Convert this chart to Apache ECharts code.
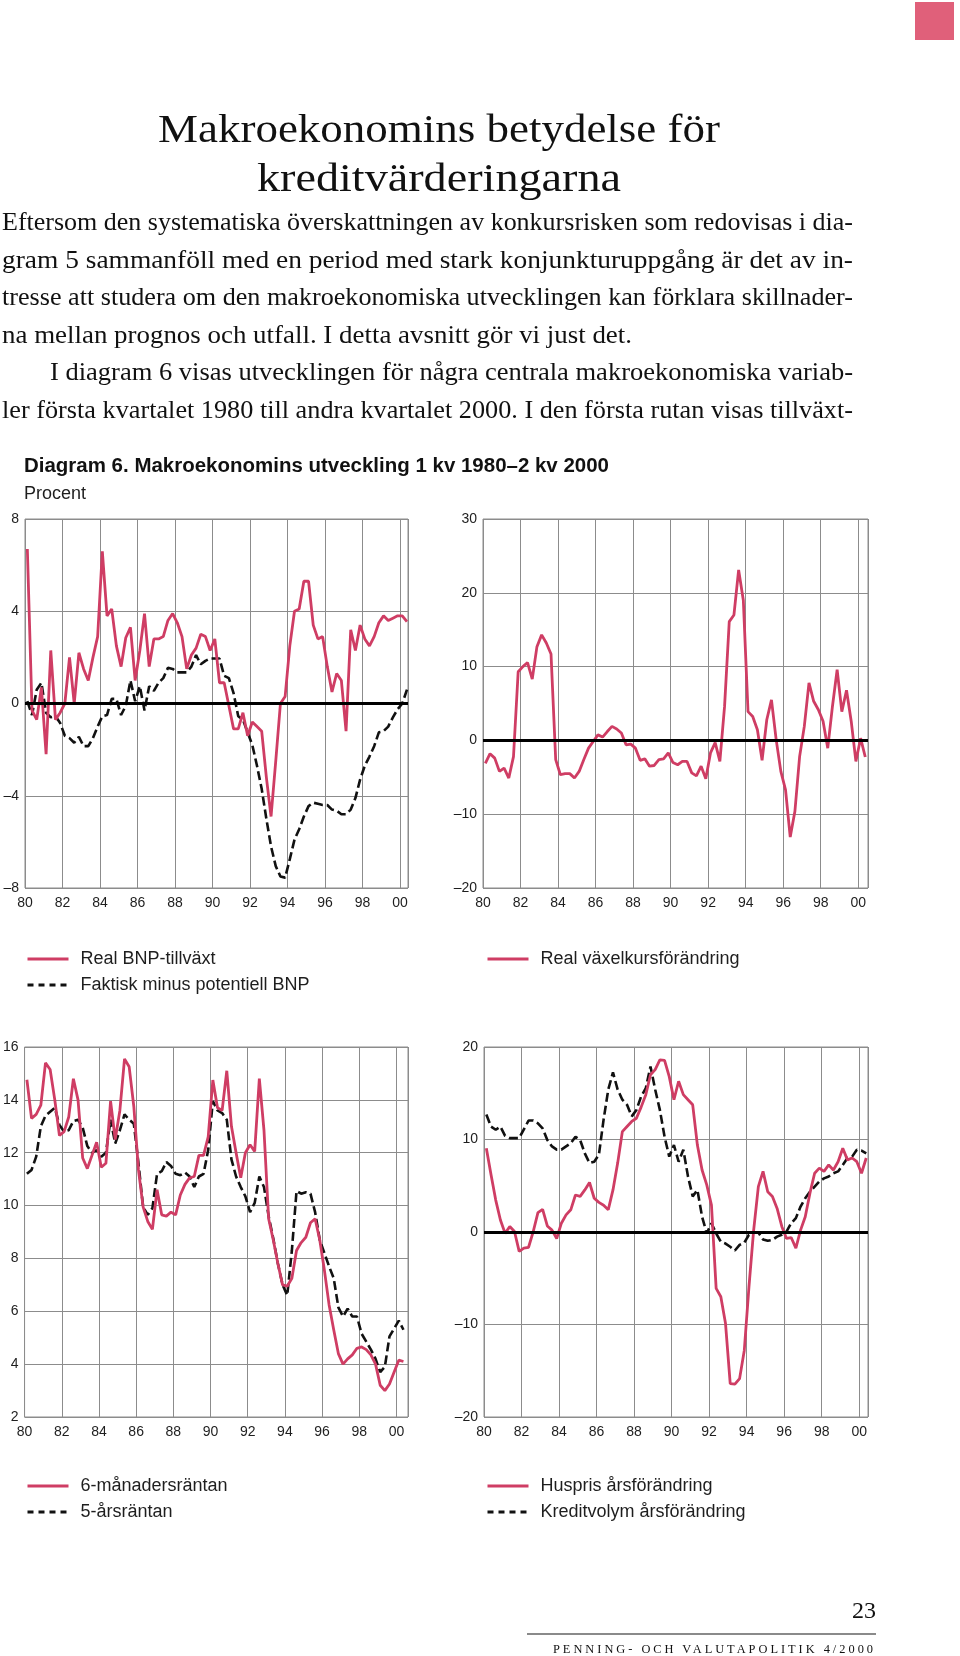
<!DOCTYPE html>
<html lang="sv">
<head>
<meta charset="utf-8">
<script src="https://cdn.jsdelivr.net/npm/echarts@6/dist/echarts.min.js"></script>
<style>
  html, body { margin: 0; padding: 0; background: #fff; }
  #page { position: relative; width: 960px; height: 1656px; overflow: hidden; background: #fff; }
  #chart { position: absolute; left: 0; top: 0; width: 960px; height: 1656px; }
  .ln { position: absolute; white-space: nowrap; line-height: 1; color: #111; font-family: "Liberation Serif", "DejaVu Serif", serif; }
  .ln span { display: inline-block; transform-origin: 0 50%; }
  #tab { position: absolute; left: 915px; top: 2px; width: 39px; height: 38px; background: #e0607a; }
  #rule { position: absolute; left: 527px; top: 1633px; width: 349px; height: 0; border-top: 2px solid #8a8a8a; }
</style>
</head>
<body>
<div id="page">
  <div id="chart"></div>
  <div id="tab"></div>
  <div id="rule"></div>
</div>
<script>
// ---------------- data (quarterly, 1 kv 1980 – 2 kv 2000) ----------------
const startYear = 1980;
const yearTicks = [1980, 1982, 1984, 1986, 1988, 1990, 1992, 1994, 1996, 1998, 2000];

const realBnpTillvaxt = [6.7,-0.3,-0.7,0.7,-2.2,2.3,-0.7,-0.4,0.0,2.0,
  0.0,2.2,1.5,1.0,2.0,2.9,6.6,3.8,4.1,2.5,
  1.6,2.85,3.3,1.0,2.3,3.9,1.6,2.8,2.8,2.9,
  3.6,3.9,3.5,2.9,1.5,2.1,2.4,3.0,2.9,2.3,
  2.8,0.9,0.9,-0.1,-1.1,-1.1,-0.4,-1.4,-0.8,-1.0,
  -1.2,-3.2,-4.9,-2.5,0.0,0.3,2.5,4.0,4.1,5.3,
  5.3,3.4,2.8,2.9,1.6,0.5,1.3,1.0,-1.2,3.2,
  2.3,3.4,2.8,2.5,2.9,3.5,3.8,3.6,3.7,3.8,
  3.8,3.55];

const faktiskMinusPotentiell = [0.1,-0.5,0.6,0.9,-0.4,-0.6,-0.55,-0.85,-1.4,-1.5,
  -1.7,-1.45,-1.85,-1.85,-1.5,-1.0,-0.55,-0.5,0.2,0.2,
  -0.5,-0.1,1.0,0.1,0.75,-0.3,0.75,0.55,0.9,1.1,
  1.55,1.5,1.35,1.35,1.35,1.6,2.1,1.7,1.85,1.95,
  1.95,1.95,1.2,1.1,0.45,-0.55,-0.7,-1.25,-1.8,-2.7,
  -3.7,-5.0,-6.2,-7.05,-7.5,-7.55,-6.75,-5.9,-5.45,-4.9,
  -4.45,-4.3,-4.35,-4.4,-4.4,-4.6,-4.65,-4.8,-4.8,-4.6,
  -4.1,-3.3,-2.7,-2.3,-1.85,-1.25,-1.2,-1.0,-0.6,-0.25,
  0.0,0.6];

const realVaxelkurs = [-3.1,-1.8,-2.4,-4.2,-3.75,-5.1,-2.2,9.3,10.0,10.55,
  8.3,12.7,14.3,13.2,11.7,-2.6,-4.65,-4.5,-4.5,-5.1,
  -4.2,-2.6,-1.05,-0.15,0.75,0.45,1.2,1.9,1.55,1.0,
  -0.6,-0.5,-1.05,-2.7,-2.5,-3.5,-3.4,-2.6,-2.5,-1.7,
  -3.0,-3.3,-2.85,-2.85,-4.4,-4.8,-3.5,-5.2,-1.7,-0.3,
  -2.85,4.6,16.1,17.0,23.1,19.0,3.9,3.25,1.45,-2.7,
  2.8,5.5,0.1,-4.2,-6.7,-13.1,-9.6,-2.2,1.9,7.8,
  5.3,4.15,2.6,-1.05,4.6,9.6,3.9,6.8,2.6,-2.85,
  0.3,-2.25];

const sexManadersRantan = [14.76,13.3,13.45,13.8,15.4,15.15,14.0,12.65,12.8,13.35,
  14.8,14.0,11.8,11.4,11.9,12.4,11.45,11.6,13.95,12.5,
  13.6,15.55,15.25,13.75,11.35,9.95,9.4,9.1,10.6,9.65,
  9.6,9.75,9.65,10.4,10.8,11.05,11.1,11.9,11.9,12.6,
  14.75,13.7,13.6,15.1,13.0,12.0,11.05,12.0,12.3,12.05,
  14.8,12.85,9.5,8.7,7.8,7.0,6.95,7.25,8.3,8.6,
  8.8,9.35,9.5,8.7,7.55,6.25,5.3,4.4,4.0,4.2,
  4.35,4.6,4.65,4.55,4.35,4.0,3.2,3.0,3.25,3.7,
  4.15,4.1];

const femArsRantan = [11.2,11.35,11.85,13.0,13.4,13.55,13.7,13.05,12.8,12.85,
  13.2,13.25,12.95,12.25,12.0,12.1,11.85,12.0,13.25,12.35,
  12.85,13.45,13.25,13.1,11.6,9.95,9.65,9.9,11.2,11.3,
  11.65,11.5,11.2,11.15,11.25,11.1,10.7,11.1,11.2,12.1,
  13.95,13.6,13.5,13.25,11.75,11.1,10.7,10.35,9.75,10.1,
  11.1,10.7,9.6,8.75,7.8,7.0,6.6,8.3,10.55,10.45,
  10.5,10.45,9.75,8.7,8.2,7.7,7.25,6.15,5.8,6.1,
  5.8,5.8,5.15,4.85,4.55,4.2,3.7,3.9,5.05,5.35,
  5.65,5.3];

const husprisArsforandring = [9.05,6.2,3.45,1.3,-0.15,0.6,0.05,-2.1,-1.75,-1.65,
  0.05,2.1,2.45,0.65,0.2,-0.7,0.95,1.85,2.4,4.0,
  3.85,4.55,5.35,3.65,3.2,2.9,2.4,4.55,7.45,10.85,
  11.4,11.95,12.3,13.5,14.85,17.0,17.55,18.6,18.55,16.8,
  14.3,16.3,14.85,14.3,13.75,9.4,6.7,5.1,2.9,-6.1,
  -7.0,-9.9,-16.4,-16.45,-15.85,-12.8,-5.9,0.2,4.9,6.55,
  4.35,3.85,2.55,0.6,-0.7,-0.6,-1.75,0.2,1.65,4.2,
  6.35,6.9,6.55,7.25,6.7,7.6,9.05,7.8,8.0,7.6,
  6.35,8.0];

const kreditvolymArsforandring = [12.7,11.4,11.05,11.4,10.4,10.15,10.15,10.15,11.1,12.05,
  12.05,11.75,11.2,9.95,9.25,8.9,8.9,9.25,9.6,10.3,
  9.95,8.5,7.45,7.6,8.35,12.15,15.4,17.25,15.4,14.3,
  13.75,12.5,13.2,14.65,15.55,17.9,15.4,13.2,10.3,8.15,
  9.4,7.6,8.9,6.0,3.85,4.55,1.65,-0.15,0.95,-0.15,
  -1.05,-1.25,-1.6,-2.0,-1.4,-1.15,-0.3,-0.05,-0.05,-0.8,
  -0.95,-0.85,-0.5,-0.3,0.05,0.95,1.5,2.75,3.65,4.35,
  4.9,5.45,5.8,6.0,6.35,6.55,7.25,8.0,8.15,8.9,
  8.8,8.5];

// y-axis tick settings per panel
const yTicks1 = [-8, -4, 0, 4, 8];
const yTicks2 = [-20, -10, 0, 10, 20, 30];
const yTicks3 = [2, 4, 6, 8, 10, 12, 14, 16];
const yTicks4 = [-20, -10, 0, 10, 20];

// ---------------- styles ----------------
const RED = '#cf3d64';
const BLACK = '#111111';
const GRIDC = '#8c8c8c';
const TXT = '#1e1e1e';
const SANS = '"Liberation Sans", Arial, sans-serif';
const DASH = [9, 4];

// quarter midpoints
function toXY(arr) { return arr.map((v, i) => [startYear + 0.125 + 0.25 * i, v]); }

function measure(text, font) {
  const c = document.createElement('canvas').getContext('2d');
  c.font = font;
  return c.measureText(text).width;
}

const panels = [
  { left: 25,  top: 519,  width: 383, height: 369, xmax: 2000.43, yt: yTicks1 },
  { left: 483, top: 519,  width: 385, height: 369, xmax: 2000.52, yt: yTicks2 },
  { left: 22,  top: 1047, width: 386, height: 370, xmax: 2000.62, yt: yTicks3 },
  { left: 484, top: 1047, width: 384, height: 370, xmax: 2000.47, yt: yTicks4 }
];

const grid = panels.map(p => ({
  left: p.left, top: p.top, width: p.width, height: p.height,
  show: true, borderColor: GRIDC, borderWidth: 1, backgroundColor: 'transparent'
}));

const xAxis = panels.map((p, k) => ({
  type: 'value', gridIndex: k, min: yearTicks[0], max: p.xmax, interval: 2,
  axisLine: { show: false }, axisTick: { show: false },
  splitLine: { show: true, lineStyle: { color: GRIDC, width: 1 } },
  axisLabel: {
    margin: 8, fontSize: 14, color: TXT, fontFamily: SANS, showMaxLabel: false,
    formatter: v => yearTicks.indexOf(v) >= 0 ? String(v % 100).padStart(2, '0') : ''
  }
}));

const yAxis = panels.map((p, k) => ({
  type: 'value', gridIndex: k, min: p.yt[0], max: p.yt[p.yt.length - 1],
  interval: p.yt[1] - p.yt[0],
  axisLine: { show: false }, axisTick: { show: false },
  splitLine: { show: true, lineStyle: { color: GRIDC, width: 1 } },
  axisLabel: {
    margin: 6, fontSize: 14, color: TXT, fontFamily: SANS,
    formatter: v => v < 0 ? '\u2013' + (-v) : String(v)
  }
}));

const zeroLine = {
  silent: true, symbol: 'none', label: { show: false }, animation: false,
  lineStyle: { color: '#000', width: 3, type: 'solid' },
  data: [{ yAxis: 0 }]
};

function lineSeries(name, arr, k, dashed, withZero) {
  const s = {
    name, type: 'line', xAxisIndex: k, yAxisIndex: k, data: toXY(arr),
    showSymbol: false, symbol: 'none', silent: true, animation: false,
    lineStyle: dashed ? { color: BLACK, width: 2.6, type: DASH } : { color: RED, width: 2.8 },
    itemStyle: { color: dashed ? BLACK : RED }
  };
  if (withZero) s.markLine = zeroLine;
  return s;
}

const series = [
  lineSeries('Faktisk minus potentiell BNP', faktiskMinusPotentiell, 0, true, true),
  lineSeries('Real BNP-tillväxt', realBnpTillvaxt, 0, false, false),
  lineSeries('Real växelkursförändring', realVaxelkurs, 1, false, true),
  lineSeries('5-årsräntan', femArsRantan, 2, true, false),
  lineSeries('6-månadersräntan', sexManadersRantan, 2, false, false),
  lineSeries('Kreditvolym årsförändring', kreditvolymArsforandring, 3, true, true),
  lineSeries('Huspris årsförändring', husprisArsforandring, 3, false, false)
];

const hiddenSymbol = { color: 'rgba(0,0,0,0)', borderWidth: 0, borderColor: 'rgba(0,0,0,0)', opacity: 0 };

function legendAt(left, top, names) {
  return {
    left, top, orient: 'vertical', padding: 0, itemGap: 8, itemWidth: 41, itemHeight: 14,
    selectedMode: false,
    itemStyle: hiddenSymbol,
    textStyle: { fontSize: 18, color: TXT, fontFamily: SANS, padding: [0, 0, 0, 7] },
    data: names.map(n => {
      const dashed = /Faktisk|5-års|Kreditvolym/.test(n);
      return {
        name: n,
        itemStyle: hiddenSymbol,
        lineStyle: dashed ? { type: [6, 5], width: 3, color: BLACK } : { width: 3, color: RED, type: 'solid' }
      };
    })
  };
}

const legend = [
  legendAt(26, 950, ['Real BNP-tillväxt', 'Faktisk minus potentiell BNP']),
  legendAt(486, 950, ['Real växelkursförändring']),
  legendAt(26, 1477, ['6-månadersräntan', '5-årsräntan']),
  legendAt(486, 1477, ['Huspris årsförändring', 'Kreditvolym årsförändring'])
];

const diagTitle = 'Diagram 6. Makroekonomins utveckling 1 kv 1980\u20132 kv 2000';
const titleFont = 'bold 20px "Liberation Sans"';
const unitFont = '18px "Liberation Sans"';

const graphic = [
  { type: 'text', x: 24, y: 466, scaleX: 585 / measure(diagTitle, titleFont), silent: true,
    style: { text: diagTitle, font: titleFont, fill: '#111', align: 'left', verticalAlign: 'middle' } },
  { type: 'text', x: 24, y: 494, silent: true,
    style: { text: 'Procent', font: unitFont, fill: TXT, align: 'left', verticalAlign: 'middle' } }
];

const chart = echarts.init(document.getElementById('chart'), null, { renderer: 'canvas' });
chart.setOption({
  animation: false,
  backgroundColor: 'transparent',
  grid, xAxis, yAxis, series, legend, graphic
});

// ---------------- article text (HTML) ----------------
const textLines = [
  { t: 'Makroekonomins betydelse för', x: 158, w: 562, base: 142, fs: 41 },
  { t: 'kreditvärderingarna', x: 257, w: 364, base: 191, fs: 41 },
  { t: 'Eftersom den systematiska överskattningen av konkursrisken som redovisas i dia-', x: 2, w: 851, base: 231, fs: 26 },
  { t: 'gram 5 sammanföll med en period med stark konjunkturuppgång är det av in-', x: 2, w: 851, base: 268.5, fs: 26 },
  { t: 'tresse att studera om den makroekonomiska utvecklingen kan förklara skillnader-', x: 2, w: 851, base: 306, fs: 26 },
  { t: 'na mellan prognos och utfall. I detta avsnitt gör vi just det.', x: 2, w: 630, base: 343.5, fs: 26 },
  { t: 'I diagram 6 visas utvecklingen för några centrala makroekonomiska variab-', x: 50, w: 803, base: 381, fs: 26 },
  { t: 'ler första kvartalet 1980 till andra kvartalet 2000. I den första rutan visas tillväxt-', x: 2, w: 851, base: 418.5, fs: 26 },
  { t: '23', x: 852, w: 24, base: 1618, fs: 23 },
  { t: 'PENNING- OCH VALUTAPOLITIK 4/2000', x: 553, w: 323, base: 1653, fs: 12.5, spacing: true }
];

const page = document.getElementById('page');
textLines.forEach(L => {
  const d = document.createElement('div');
  d.className = 'ln';
  d.style.left = L.x + 'px';
  d.style.top = (L.base - 0.8375 * L.fs) + 'px';
  d.style.fontSize = L.fs + 'px';
  const s = document.createElement('span');
  s.textContent = L.t;
  d.appendChild(s);
  page.appendChild(d);
  const w = s.getBoundingClientRect().width;
  if (L.spacing) {
    const n = L.t.length - 1;
    s.style.letterSpacing = ((L.w - w) / n) + 'px';
    const w2 = s.getBoundingClientRect().width;
    if (w2 > L.w + 1) s.style.transform = 'scaleX(' + (L.w / w2) + ')';
  } else {
    s.style.transform = 'scaleX(' + (L.w / w) + ')';
  }
});
</script>
</body>
</html>
